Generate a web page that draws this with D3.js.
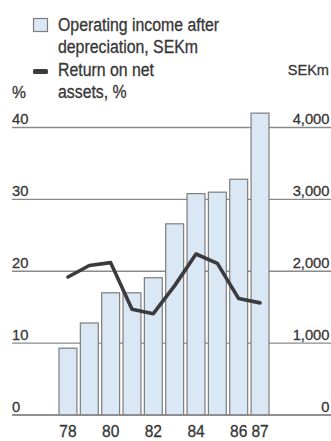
<!DOCTYPE html>
<html>
<head>
<meta charset="utf-8">
<script src="https://cdn.jsdelivr.net/npm/d3@7"></script>
<style>
  html, body { margin: 0; padding: 0; background: #ffffff; }
  svg { display: block; }
  text { font-family: "Liberation Sans", Arial, sans-serif; fill: #363636; stroke: #363636; stroke-width: 0.3px; }
</style>
</head>
<body>
<div id="chart"></div>
<script>
// Years shown along the bottom axis
const years = [78, 79, 80, 81, 82, 83, 84, 85, 86, 87];
// Operating income after depreciation, SEKm
const income = [930, 1280, 1700, 1700, 1910, 2660, 3080, 3100, 3280, 4200];
// Return on net assets, %
const returnPct = [19.2, 20.8, 21.2, 14.7, 14.1, 18.0, 22.4, 21.1, 16.2, 15.6];
// Axis tick labels
const yearTicks = [78, 80, 82, 84, 86, 87];
const pctTicks = [0, 10, 20, 30, 40];
const sekTicks = [0, 1000, 2000, 3000, 4000];
// Legend entries
const legendIncome = ["Operating income after", "depreciation, SEKm"];
const legendReturn = ["Return on net", "assets, %"];

const W = 331, H = 441;
const svg = d3.select("#chart").append("svg").attr("width", W).attr("height", H);

// Narrow the typeface horizontally, keeping its height; optionally right-align at `right`
function condense(sel, factor, right) {
  sel.each(function () {
    const len = this.getComputedTextLength() * factor;
    const t = d3.select(this).attr("textLength", len).attr("lengthAdjust", "spacingAndGlyphs");
    if (right !== undefined) t.attr("x", right - len);
  });
}

const x = d3.scaleBand().domain(years).range([59, 269]).paddingInner(0.16).paddingOuter(0);
const yPct = d3.scaleLinear().domain([0, 40]).range([415, 127.5]);
const ySek = d3.scaleLinear().domain([0, 4000]).range([415, 127.5]);

// Horizontal gridlines (drawn behind the bars)
svg.append("g").selectAll("line").data(pctTicks).join("line")
  .attr("x1", 12).attr("x2", 331)
  .attr("y1", d => yPct(d)).attr("y2", d => yPct(d))
  .attr("stroke", "#8a8a8a").attr("stroke-width", 1.3);

// Left axis labels (%)
svg.append("g").selectAll("text").data(pctTicks).join("text")
  .attr("x", 12).attr("y", d => yPct(d) - 3.5)
  .attr("font-size", 15.5)
  .text(d => d)
  .call(condense, 0.95);

// Right axis labels (SEKm)
const fmt = d3.format(",");
svg.append("g").selectAll("text").data(sekTicks).join("text")
  .attr("y", d => ySek(d) - 3.5)
  .attr("font-size", 15.5)
  .text(d => fmt(d))
  .call(condense, 0.95, 329.5);

// Bars
svg.append("g").selectAll("rect").data(years).join("rect")
  .attr("x", d => x(d)).attr("width", x.bandwidth())
  .attr("y", (d, i) => ySek(income[i]))
  .attr("height", (d, i) => ySek(0) - ySek(income[i]))
  .attr("fill", "#dae8f6").attr("stroke", "#7d7d7d").attr("stroke-width", 1.2);

// Baseline
svg.append("line").attr("x1", 12).attr("x2", 331)
  .attr("y1", yPct(0)).attr("y2", yPct(0))
  .attr("stroke", "#8a8a8a").attr("stroke-width", 1.3);

// Return on net assets line
const line = d3.line()
  .x((d, i) => x(years[i]) + x.bandwidth() / 2)
  .y(d => yPct(d));
svg.append("path").datum(returnPct)
  .attr("d", line)
  .attr("fill", "none").attr("stroke", "#3b3b3d")
  .attr("stroke-width", 3.6).attr("stroke-linejoin", "round").attr("stroke-linecap", "round");

// Year labels
svg.append("g").selectAll("text").data(yearTicks).join("text")
  .attr("x", d => x(d) + x.bandwidth() / 2)
  .attr("y", 437)
  .attr("text-anchor", "middle")
  .attr("font-size", 16)
  .text(d => d)
  .call(condense, 0.97);

// Axis unit labels
svg.append("text").attr("x", 12).attr("y", 98).attr("font-size", 16.5).text("%").call(condense, 0.95);
svg.append("text").attr("y", 75).attr("font-size", 15).text("SEKm").call(condense, 0.97, 329);

// Legend
svg.append("rect").attr("x", 33.5).attr("y", 18.5).attr("width", 14).attr("height", 13)
  .attr("fill", "#dae8f6").attr("stroke", "#7d7d7d").attr("stroke-width", 1.2);
svg.append("rect").attr("x", 33).attr("y", 69).attr("width", 15).attr("height", 5).attr("rx", 1.5)
  .attr("fill", "#3b3b3d");

svg.append("g").selectAll("text").data(legendIncome.concat(legendReturn)).join("text")
  .attr("x", 58).attr("y", (d, i) => 31 + i * 22.4)
  .attr("font-size", 18)
  .text(d => d)
  .call(condense, 0.88);
</script>
</body>
</html>
